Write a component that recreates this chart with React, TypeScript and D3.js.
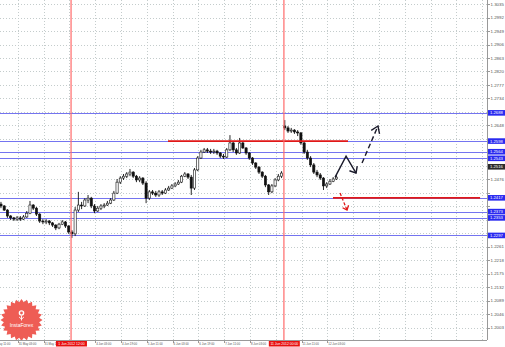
import React from 'react';
import * as d3 from 'd3';

// ---- data (EUR/USD, H2 bars; hour index from 30 May 16:00) ----
const opens = [1.2397,1.2391,1.2378,1.2359,1.2353,1.2349,1.2353,1.2349,1.2356,1.2368,1.2394,1.2384,1.2365,1.2343,1.2340,1.2343,1.2337,1.2330,1.2321,1.2333,1.2340,1.2327,1.2308,1.2302,1.2378,1.2394,1.2391,1.2410,1.2416,1.2391,1.2375,1.2384,1.2391,1.2394,1.2400,1.2410,1.2432,1.2467,1.2480,1.2486,1.2493,1.2499,1.2486,1.2474,1.2480,1.2464,1.2416,1.2436,1.2432,1.2426,1.2436,1.2432,1.2442,1.2448,1.2455,1.2461,1.2467,1.2486,1.2493,1.2483,1.2448,1.2506,1.2544,1.2563,1.2570,1.2566,1.2563,1.2566,1.2560,1.2550,1.2547,1.2570,1.2592,1.2570,1.2560,1.2592,1.2576,1.2560,1.2544,1.2528,1.2515,1.2499,1.2486,1.2458,1.2436,1.2455,1.2474,1.2486,1.2646,1.2640,1.2630,1.2633,1.2627,1.2624,1.2592,1.2563,1.2544,1.2522,1.2499,1.2490,1.2480,1.2455,1.2461,1.2470,1.2477];
const highs = [1.2404,1.2394,1.2381,1.2362,1.2356,1.2359,1.2359,1.2362,1.2375,1.2407,1.2397,1.2388,1.2368,1.2349,1.2349,1.2346,1.2340,1.2333,1.2337,1.2346,1.2343,1.2330,1.2314,1.2388,1.2436,1.2404,1.2416,1.2426,1.2420,1.2397,1.2391,1.2397,1.2400,1.2407,1.2416,1.2439,1.2477,1.2486,1.2493,1.2499,1.2509,1.2502,1.2490,1.2486,1.2483,1.2470,1.2442,1.2442,1.2439,1.2442,1.2442,1.2448,1.2455,1.2461,1.2467,1.2474,1.2490,1.2499,1.2496,1.2490,1.2512,1.2550,1.2570,1.2576,1.2576,1.2573,1.2573,1.2570,1.2563,1.2557,1.2576,1.2617,1.2595,1.2576,1.2608,1.2598,1.2579,1.2563,1.2547,1.2531,1.2518,1.2502,1.2490,1.2461,1.2461,1.2480,1.2493,1.2502,1.2665,1.2646,1.2640,1.2636,1.2633,1.2627,1.2598,1.2570,1.2550,1.2528,1.2506,1.2496,1.2483,1.2467,1.2477,1.2483,1.2490];
const lows = [1.2384,1.2375,1.2353,1.2346,1.2343,1.2343,1.2343,1.2346,1.2353,1.2365,1.2378,1.2359,1.2337,1.2333,1.2333,1.2330,1.2324,1.2314,1.2317,1.2330,1.2321,1.2302,1.2289,1.2295,1.2372,1.2381,1.2388,1.2400,1.2384,1.2368,1.2372,1.2378,1.2384,1.2391,1.2397,1.2407,1.2429,1.2461,1.2474,1.2480,1.2486,1.2480,1.2467,1.2467,1.2458,1.2400,1.2410,1.2426,1.2420,1.2420,1.2426,1.2429,1.2439,1.2445,1.2451,1.2458,1.2464,1.2483,1.2477,1.2426,1.2442,1.2502,1.2541,1.2560,1.2560,1.2557,1.2557,1.2554,1.2544,1.2541,1.2544,1.2566,1.2563,1.2554,1.2557,1.2573,1.2554,1.2538,1.2522,1.2509,1.2493,1.2480,1.2451,1.2426,1.2432,1.2451,1.2470,1.2480,1.2633,1.2624,1.2624,1.2621,1.2614,1.2586,1.2557,1.2538,1.2515,1.2493,1.2483,1.2474,1.2442,1.2448,1.2458,1.2467,1.2474];
const closes = [1.2391,1.2378,1.2359,1.2353,1.2349,1.2353,1.2349,1.2356,1.2368,1.2394,1.2384,1.2365,1.2343,1.2340,1.2343,1.2337,1.2330,1.2321,1.2333,1.2340,1.2327,1.2308,1.2302,1.2378,1.2394,1.2391,1.2410,1.2416,1.2391,1.2375,1.2384,1.2391,1.2394,1.2400,1.2410,1.2432,1.2467,1.2480,1.2486,1.2493,1.2499,1.2486,1.2474,1.2480,1.2464,1.2416,1.2436,1.2432,1.2426,1.2436,1.2432,1.2442,1.2448,1.2455,1.2461,1.2467,1.2486,1.2493,1.2483,1.2448,1.2506,1.2544,1.2563,1.2570,1.2566,1.2563,1.2566,1.2560,1.2550,1.2547,1.2570,1.2592,1.2570,1.2560,1.2592,1.2576,1.2560,1.2544,1.2528,1.2515,1.2499,1.2486,1.2458,1.2436,1.2455,1.2474,1.2486,1.2496,1.2640,1.2630,1.2633,1.2627,1.2624,1.2592,1.2563,1.2544,1.2522,1.2499,1.2490,1.2480,1.2455,1.2461,1.2470,1.2477,1.2483];
const BAR_HOURS = 2;

const priceTicks = [1.3035,1.2992,1.2949,1.2906,1.2863,1.2820,1.2777,1.2734,1.2691,1.2648,1.2605,1.2562,1.2519,1.2476,1.2433,1.2390,1.2347,1.2304,1.2261,1.2218,1.2175,1.2132,1.2089,1.2046,1.2003];
const timeGridHours = [-5,11,27,43,59,75,91,107,123,139,155,171,187,203,219,235,251,267,283,299];
const timeTickLabels = ['30 May 11:00','31 May 03:00','31 May 19:00','1 Jun 11:00','4 Jun 03:00','4 Jun 19:00','5 Jun 11:00','6 Jun 03:00','6 Jun 19:00','7 Jun 11:00','8 Jun 03:00','8 Jun 19:00','11 Jun 11:00','12 Jun 03:00'];

const vLineHours = [44, 176];
const vLineLabels = ['1 Jun 2012 12:00', '11 Jun 2012 00:00'];

const blueLevels = [1.2688, 1.2598, 1.2564, 1.2543, 1.2417, 1.2373, 1.2353, 1.2297];
const redLevelPrices = [1.2598, 1.2417];
const redLevelFrom = [104.2, 206.5];
const redLevelTo = [215.8, 297.7];
const currentPrice = 1.2516;

const blackSolidPath: [number, number][] = [[207.8, 1.2483], [214.6, 1.2550], [220.8, 1.2496]];
const blackDashedPath: [number, number][] = [[224.5, 1.2528], [234.4, 1.2646]];
const redDashedPath: [number, number][] = [[210.9, 1.2432], [215.2, 1.2378]];

const W = 505, H = 347;
const PR = 487, PB = 340;
const FONT = '"Liberation Sans", Arial, sans-serif';

const x = d3.scaleLinear().domain([0, 302]).range([0, PR]);
const y = d3.scaleLinear().domain([1.19635, 1.3048]).range([PB, 0]);

function arrowHead(pts: [number, number][], len = 7, ang = 0.6) {
  const n = pts.length;
  const [x1, y1] = pts[n - 2];
  const [x2, y2] = pts[n - 1];
  const a = Math.atan2(y2 - y1, x2 - x1);
  const p1 = [x2 - len * Math.cos(a - ang), y2 - len * Math.sin(a - ang)];
  const p2 = [x2 - len * Math.cos(a + ang), y2 - len * Math.sin(a + ang)];
  return `M${p1[0]},${p1[1]}L${x2},${y2}L${p2[0]},${p2[1]}`;
}

const line = d3.line<[number, number]>().x(d => x(d[0])).y(d => y(d[1]));

function Logo() {
  const cx = 21.5, cy = 320, ro = 21, ri = 17.8, n = 24;
  const pts = d3.range(n * 2).map(k => {
    const r = k % 2 === 0 ? ro : ri;
    const a = (Math.PI * k) / n - Math.PI / 2;
    return [cx + r * Math.cos(a), cy + r * Math.sin(a)];
  });
  return (
    <g clipPath="url(#plotClip)">
      <polygon points={pts.map(p => p.join(',')).join(' ')} fill="#ee5d55" />
      <circle cx={cx} cy={cy - 7} r={2.8} fill="#fff" />
      <circle cx={cx} cy={cy - 7} r={1.4} fill="#ee5d55" />
      <path d={`M${cx},${cy - 4.3}L${cx},${cy + 0.5}M${cx - 2.4},${cy - 3}L${cx},${cy - 0.8}L${cx + 2.4},${cy - 3}`} stroke="#fff" strokeWidth={0.9} fill="none" />
      <text x={cx} y={cy + 7} fontSize={5} fill="#fff" textAnchor="middle" fontFamily={FONT}>InstaForex</text>
    </g>
  );
}

export default function App() {
  const bw = 2.2;
  const levelYs = [...blueLevels, currentPrice].map(p => y(p));
  return (
    <svg width={W} height={H} style={{ position: 'absolute', left: 0, top: 0, background: '#fff' }}>
      <defs>
        <clipPath id="plotClip"><rect x={0} y={0} width={PR} height={PB} /></clipPath>
      </defs>
      <rect x={0} y={0} width={W} height={H} fill="#fff" />
      <g clipPath="url(#plotClip)">
        {priceTicks.map((p, k) => (
          <line key={'gh' + k} x1={0} x2={PR} y1={Math.round(y(p)) + 0.5} y2={Math.round(y(p)) + 0.5} stroke="#c4cccc" strokeWidth={1} strokeDasharray="1,2" />
        ))}
        {timeGridHours.map((h, k) => (
          <line key={'gv' + k} x1={Math.round(x(h)) + 0.5} x2={Math.round(x(h)) + 0.5} y1={0} y2={PB} stroke="#c4cccc" strokeWidth={1} strokeDasharray="1,2" />
        ))}
        {blueLevels.map((p, k) => (
          <line key={'bl' + k} x1={0} x2={PR} y1={Math.round(y(p)) + 0.5} y2={Math.round(y(p)) + 0.5} stroke="#7474f0" strokeWidth={1} />
        ))}
        {closes.map((c, i) => {
          const o = opens[i];
          const cx = x(i * BAR_HOURS + 0.6);
          const top = y(Math.max(o, c));
          const bot = y(Math.min(o, c));
          const bull = c >= o;
          return (
            <g key={'c' + i}>
              <line x1={cx} x2={cx} y1={y(highs[i])} y2={y(lows[i])} stroke="#111" strokeWidth={0.9} />
              <rect x={cx - bw / 2} y={top} width={bw} height={Math.max(0.8, bot - top)} fill={bull ? '#fff' : '#111'} stroke="#111" strokeWidth={0.6} />
            </g>
          );
        })}
        {redLevelPrices.map((p, k) => (
          <line key={'rl' + k} x1={x(redLevelFrom[k])} x2={x(redLevelTo[k])} y1={y(p)} y2={y(p)} stroke="#e01818" strokeWidth={1.7} />
        ))}
        <path d={line(blackSolidPath) || ''} fill="none" stroke="#1a1a2a" strokeWidth={1.4} />
        <path d={arrowHead(blackSolidPath.map(d => [x(d[0]), y(d[1])] as [number, number]), 7, 0.7)} fill="none" stroke="#1a1a2a" strokeWidth={1.4} />
        <path d={line(blackDashedPath) || ''} fill="none" stroke="#1a1a2a" strokeWidth={1.4} strokeDasharray="5,3" />
        <path d={arrowHead(blackDashedPath.map(d => [x(d[0]), y(d[1])] as [number, number]), 8, 0.6)} fill="none" stroke="#1a1a2a" strokeWidth={1.4} />
        <path d={line(redDashedPath) || ''} fill="none" stroke="#e01818" strokeWidth={1.3} strokeDasharray="3,2" />
        <path d={arrowHead(redDashedPath.map(d => [x(d[0]), y(d[1])] as [number, number]), 5, 0.7)} fill="none" stroke="#e01818" strokeWidth={1.3} />
      </g>
      <Logo />
      {/* vertical red lines, on top */}
      {vLineHours.map((h, k) => (
        <rect key={'vl' + k} x={x(h) - 0.5} y={0} width={1.2} height={PB} fill="#ff6a6a" />
      ))}
      <line x1={PR + 0.5} x2={PR + 0.5} y1={0} y2={PB} stroke="#999" strokeWidth={1} />
      <line x1={0} x2={PR} y1={PB + 0.5} y2={PB + 0.5} stroke="#999" strokeWidth={1} />
      {priceTicks.map((p, k) => {
        const yy = y(p);
        const covered = levelYs.some(ly => Math.abs(ly - yy) < 5.5);
        return (
          <g key={'pt' + k}>
            <line x1={PR} x2={PR + 3} y1={Math.round(yy) + 0.5} y2={Math.round(yy) + 0.5} stroke="#999" />
            {!covered && <text x={PR + 3.5} y={yy + 1.6} fontSize={4.4} fill="#555" fontFamily={FONT}>{p.toFixed(4)}</text>}
          </g>
        );
      })}
      {blueLevels.map((p, k) => (
        <g key={'bll' + k}>
          <rect x={PR + 1} y={y(p) - 2.8} width={W - PR - 1} height={5.6} fill="#2a2af0" />
          <text x={PR + 3} y={y(p) + 1.5} fontSize={4.2} fill="#fff" fontFamily={FONT}>{p.toFixed(4)}</text>
        </g>
      ))}
      <rect x={PR + 1} y={y(currentPrice) - 2.8} width={W - PR - 1} height={5.6} fill="#2b2b2b" />
      <text x={PR + 3} y={y(currentPrice) + 1.5} fontSize={4.2} fill="#fff" fontFamily={FONT}>{currentPrice.toFixed(4)}</text>
      {timeTickLabels.map((t, k) => {
        const h = timeGridHours[k];
        const hidden = vLineHours.some(v => Math.abs(x(v) - x(h)) < 16);
        return (
          <g key={'tl' + k}>
            <line x1={Math.round(x(h)) + 0.5} x2={Math.round(x(h)) + 0.5} y1={PB} y2={PB + 3} stroke="#999" />
            {!hidden && <text x={x(h) + 1} y={PB + 5.2} fontSize={2.9} fill="#555" fontFamily={FONT}>{t}</text>}
          </g>
        );
      })}
      {vLineHours.map((h, k) => (
        <g key={'vll' + k}>
          <rect x={x(h) - 15} y={PB + 1} width={31} height={5.5} fill="#e81010" />
          <text x={x(h) + 0.5} y={PB + 5} fontSize={3.4} fill="#fff" textAnchor="middle" fontFamily={FONT}>{vLineLabels[k]}</text>
        </g>
      ))}
    </svg>
  );
}
